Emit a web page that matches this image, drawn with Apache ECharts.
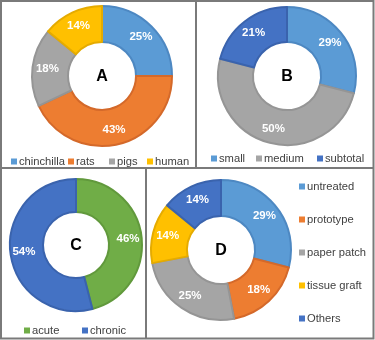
<!DOCTYPE html>
<html><head><meta charset="utf-8">
<script src="https://cdn.jsdelivr.net/npm/echarts@6/dist/echarts.min.js"></script>
<style>html,body{margin:0;padding:0;background:#fff}#c{width:375px;height:340px}</style>
</head><body><div id="c"></div>
<script>
const catA = ['chinchilla', 'rats', 'pigs', 'human'];
const valA = [25, 43, 18, 14];
const catB = ['small', 'medium', 'subtotal'];
const valB = [29, 50, 21];
const catC = ['acute', 'chronic'];
const valC = [46, 54];
const catD = ['untreated', 'prototype', 'paper patch', 'tissue graft', 'Others'];
const valD = [29, 18, 25, 14, 14];
const panelLetters = ['A', 'B', 'C', 'D'];

const FONT = 'Liberation Sans, Arial, sans-serif';
const pal = {
  blue: ['#5b9bd5', '#4d88c2'], orange: ['#ed7d31', '#d4692a'], gray: ['#a5a5a5', '#959595'],
  gold: ['#ffc000', '#e5ab00'], blue2: ['#4472c4', '#3a63ad'], green: ['#70ad47', '#61993c']
};
const colA = [pal.blue, pal.orange, pal.gray, pal.gold];
const colB = [pal.blue, pal.gray, pal.blue2];
const colC = [pal.green, pal.blue2];
const colD = [pal.blue, pal.orange, pal.gray, pal.gold, pal.blue2];

// layout (legend icon x positions per panel)
const legLeftA = [11, 68, 109, 147];
const legLeftB = [211, 256, 317];
const legLeftC = [24, 82];

function mk(cats, vals, cols) {
  return cats.map((n, i) => ({
    name: n, value: vals[i],
    itemStyle: { color: cols[i][0], borderColor: cols[i][1], borderWidth: 2 }
  }));
}
function pie(cats, vals, cols, center, r0, r) {
  return {
    type: 'pie', startAngle: 90, clockwise: true, center: center, radius: [r0, r],
    animation: false, silent: true,
    data: mk(cats, vals, cols),
    label: { show: true, position: 'inside', formatter: '{c}%', color: '#fff',
      fontWeight: 'bold', fontSize: 11.5, fontFamily: FONT },
    labelLine: { show: false }
  };
}
const legText = { color: '#404040', fontSize: 11.2, fontFamily: FONT, padding: [0, 0, 0, -3] };
function legItem(name, col, opts) {
  return Object.assign({
    data: [{ name: name, itemStyle: { color: col[0], borderWidth: 0 } }],
    icon: 'rect', itemWidth: 6, itemHeight: 6, textStyle: legText, selectedMode: false,
    padding: 0, width: 200
  }, opts);
}
function rowLegend(cats, cols, lefts, top) {
  return cats.map((n, i) => legItem(n, cols[i], { left: lefts[i], top: top }));
}
const centers = [[102, 76], [287, 76], [76, 245], [221, 250]];
const chart = echarts.init(document.getElementById('c'), null, { renderer: 'canvas' });
chart.setOption({
  animation: false,
  legend: [].concat(
    rowLegend(catA, colA, legLeftA, 156),
    rowLegend(catB, colB, legLeftB, 153),
    rowLegend(catC, colC, legLeftC, 325),
    [{
      data: catD.map((n, i) => ({ name: n, itemStyle: { color: colD[i][0], borderWidth: 0 } })),
      icon: 'rect', itemWidth: 6, itemHeight: 6, textStyle: legText, selectedMode: false,
      padding: 0, left: 299, top: 181, orient: 'vertical', itemGap: 22
    }]
  ),
  series: [
    pie(catA, valA, colA, centers[0], 34, 70),
    pie(catB, valB, colB, centers[1], 34, 69),
    pie(catC, valC, colC, centers[2], 33, 66),
    pie(catD, valD, colD, centers[3], 34, 70)
  ],
  graphic: [
    { type: 'rect', shape: { x: 1, y: 1, width: 372.5, height: 337.5 }, style: { fill: 'none', stroke: '#7a7a7a', lineWidth: 2 } },
    { type: 'line', shape: { x1: 1, y1: 168, x2: 373.5, y2: 168 }, style: { stroke: '#7a7a7a', lineWidth: 2 } },
    { type: 'line', shape: { x1: 196, y1: 1, x2: 196, y2: 168 }, style: { stroke: '#7a7a7a', lineWidth: 2 } },
    { type: 'line', shape: { x1: 146, y1: 168, x2: 146, y2: 338.5 }, style: { stroke: '#7a7a7a', lineWidth: 2 } }
  ].concat(panelLetters.map((t, i) => ({
    type: 'text', x: centers[i][0], y: centers[i][1] + 1,
    style: { text: t, fill: '#000', font: 'bold 16px ' + FONT, textAlign: 'center', textVerticalAlign: 'middle' }
  })))
});
</script></body></html>
